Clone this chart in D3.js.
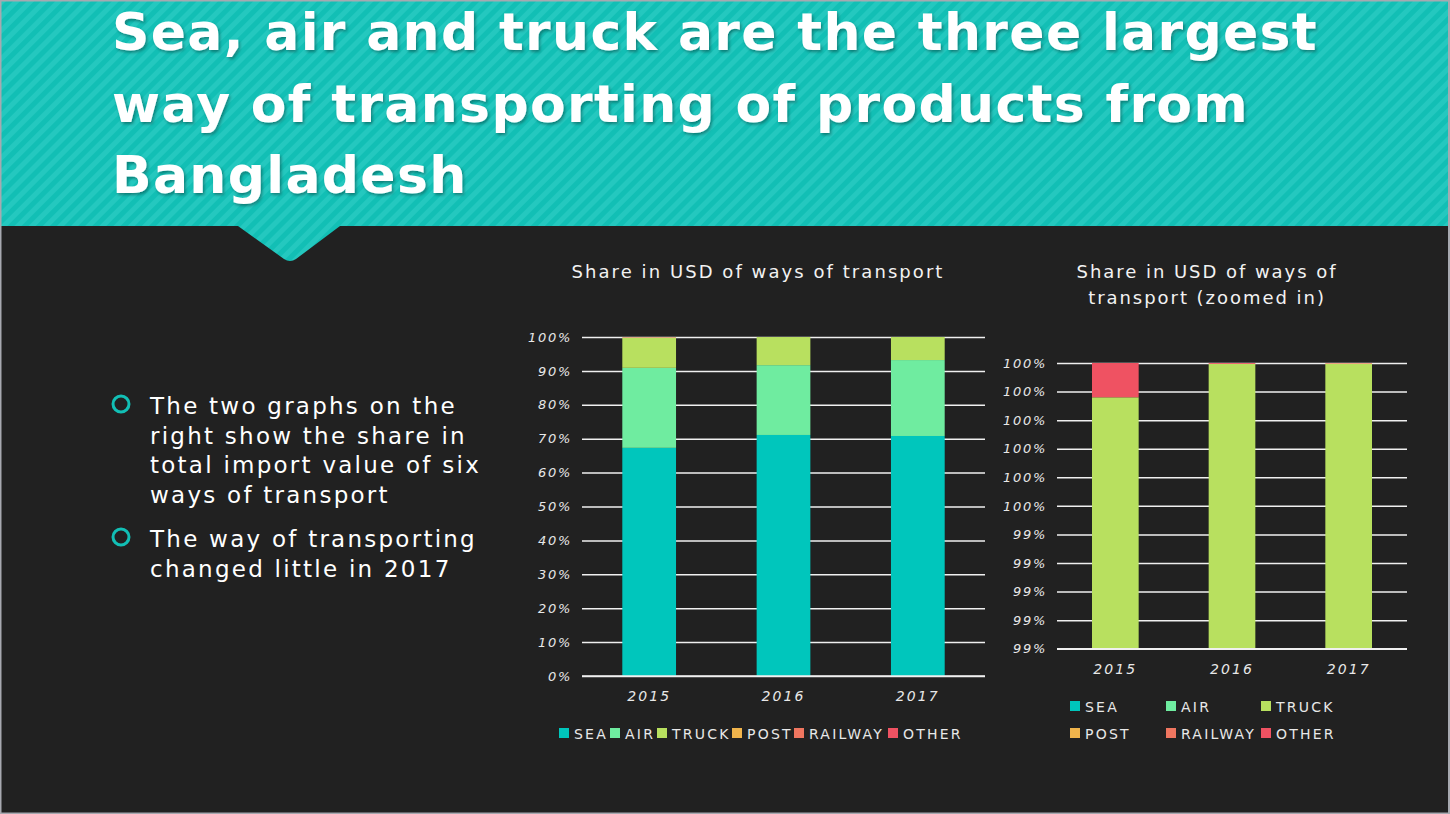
<!DOCTYPE html>
<html>
<head>
<meta charset="utf-8">
<script src="https://cdn.jsdelivr.net/npm/d3@7"></script>
<style>
  html, body { margin: 0; padding: 0; background: #212121; }
  svg { display: block; }
  text { font-family: "DejaVu Sans", "Open Sans", sans-serif; }
</style>
</head>
<body>
<svg id="chart" width="1450" height="814"></svg>
<script>
// ---------- DATA ----------
const years = ["2015", "2016", "2017"];
const modes = ["SEA", "AIR", "TRUCK", "POST", "RAILWAY", "OTHER"];
const seaShare     = [67.3, 71.1, 70.8];
const airShare     = [23.6, 20.6, 22.4];
const truckShare   = [8.98, 8.297, 6.797];
const postShare    = [0.0, 0.0, 0.001];
const railwayShare = [0.0, 0.0, 0.002];
const otherShare   = [0.12, 0.003, 0.0];
const mainTicks = [0, 10, 20, 30, 40, 50, 60, 70, 80, 90, 100];
const zoomTicks = [99.0, 99.1, 99.2, 99.3, 99.4, 99.5, 99.6, 99.7, 99.8, 99.9, 100.0];
const titleLines = ["Sea, air and truck are the three largest",
                    "way of transporting of products from",
                    "Bangladesh"];
const bullets = [
  ["The two graphs on the", "right show the share in", "total import value of six", "ways of transport"],
  ["The way of transporting", "changed little in 2017"]
];
const colors = ["#00c6bc", "#6feca0", "#b8e05f", "#f0b44c", "#ef7660", "#ef5262"];

const seriesValues = [seaShare, airShare, truckShare, postShare, railwayShare, otherShare];
const rows = years.map((y, i) => {
  const r = { year: y };
  modes.forEach((m, k) => r[m] = seriesValues[k][i]);
  return r;
});
const stacked = d3.stack().keys(modes)(rows);
const color = d3.scaleOrdinal(modes, colors);

const svg = d3.select("#chart");

function spacingFor(node, target) {
  node.setAttribute("letter-spacing", 0);
  const w = node.getComputedTextLength();
  const n = node.textContent.length;
  return (target - w) / n;
}

// ---------- BACKGROUND / BANNER ----------
const defs = svg.append("defs");
const pat = defs.append("pattern").attr("id", "stripes")
  .attr("patternUnits", "userSpaceOnUse").attr("width", 10).attr("height", 10)
  .attr("patternTransform", "rotate(-45)");
pat.append("rect").attr("width", 10).attr("height", 10).attr("fill", "#12bfb5");
pat.append("rect").attr("width", 10).attr("height", 5).attr("fill", "#24c8bf");

const shadow = defs.append("filter").attr("id", "tshadow").attr("x", "-5%").attr("y", "-20%").attr("width", "110%").attr("height", "140%");
shadow.append("feDropShadow").attr("dx", 1.5).attr("dy", 2).attr("stdDeviation", 1.5)
  .attr("flood-color", "#000").attr("flood-opacity", 0.35);

svg.append("rect").attr("width", 1450).attr("height", 814).attr("fill", "#212121");
svg.append("path")
  .attr("d", "M0,0 H1450 V226 H340 L296,259 Q290,263 284,259 L238,226 H0 Z")
  .attr("fill", "url(#stripes)");
svg.append("rect").attr("x", 0.5).attr("y", 0.5).attr("width", 1448.5).attr("height", 813)
  .attr("fill", "none").attr("stroke", "#a7a9b0").attr("stroke-width", 2);

// title
const titleG = svg.append("g").attr("filter", "url(#tshadow)");
const titleBase = [50, 122, 193];
const titleTexts = titleG.selectAll("text").data(titleLines).join("text")
  .attr("x", 112).attr("y", (d, i) => titleBase[i])
  .attr("fill", "#ffffff").attr("font-size", 52).attr("font-weight", "bold")
  .text(d => d);
titleTexts.attr("letter-spacing", spacingFor(titleTexts.nodes()[0], 1206));

// ---------- BULLETS ----------
const bulletStarts = [405, 538];
const bulletTexts = [];
bullets.forEach((lines, bi) => {
  const y0 = bulletStarts[bi];
  svg.append("circle").attr("cx", 121).attr("cy", y0 - 1).attr("r", 8)
    .attr("fill", "none").attr("stroke", "#12bfb5").attr("stroke-width", 3);
  svg.append("g").selectAll("text").data(lines).join("text")
    .attr("x", 150).attr("y", (d, i) => y0 + 9 + i * 29.6)
    .attr("fill", "#ffffff").attr("font-size", 23)
    .text(d => d)
    .each(function () { bulletTexts.push(this); });
});
d3.selectAll(bulletTexts).attr("letter-spacing", spacingFor(bulletTexts[2], 331));

// ---------- CHART HELPER ----------
function drawChart(opt) {
  const g = svg.append("g");
  const x = d3.scaleBand().domain(years).range([opt.x0, opt.x1]).paddingInner(0.6).paddingOuter(0.3);
  const y = d3.scaleLinear().domain(opt.domain).range([opt.yb, opt.yt]);

  const tt = g.selectAll("text.ctitle").data(opt.title).join("text").attr("class", "ctitle")
    .attr("x", opt.titleX).attr("y", (d, i) => opt.titleY + i * 26)
    .attr("text-anchor", "middle").attr("fill", "#f2f2f2").attr("font-size", 18)
    .text(d => d);
  tt.attr("letter-spacing", spacingFor(tt.nodes()[0], opt.titleW));

  const yAxis = d3.axisLeft(y).tickValues(opt.ticks).tickSize(-(opt.x1 - opt.x0))
    .tickPadding(10).tickFormat(opt.fmt);
  const ga = g.append("g").attr("transform", `translate(${opt.x0},0)`).call(yAxis);
  ga.select(".domain").remove();
  ga.selectAll(".tick line").attr("stroke", "#f0f0f0").attr("stroke-width", 1.5);
  const yt = ga.selectAll(".tick text").attr("fill", "#e8e8e8").attr("font-size", 13)
    .attr("font-style", "italic").attr("font-family", "\"DejaVu Sans\", sans-serif");
  const topTick = yt.nodes()[yt.size() - 1];
  yt.attr("letter-spacing", spacingFor(topTick, 44));

  const clipId = "clip" + opt.id;
  defs.append("clipPath").attr("id", clipId).append("rect")
    .attr("x", opt.x0).attr("y", opt.yt - 2).attr("width", opt.x1 - opt.x0).attr("height", opt.yb - opt.yt + 2);
  const barsG = g.append("g").attr("clip-path", `url(#${clipId})`);
  barsG.selectAll("g.layer").data(stacked).join("g").attr("class", "layer")
    .attr("fill", d => color(d.key))
    .selectAll("rect").data(d => d).join("rect")
      .attr("x", d => x(d.data.year))
      .attr("width", x.bandwidth())
      .attr("y", d => y(Math.min(d[1], opt.domain[1])))
      .attr("height", d => Math.max(0, y(Math.max(d[0], opt.domain[0] - 1)) - y(Math.min(d[1], opt.domain[1]))));

  g.append("line").attr("x1", opt.x0).attr("x2", opt.x1).attr("y1", y(opt.domain[0])).attr("y2", y(opt.domain[0]))
    .attr("stroke", "#f0f0f0").attr("stroke-width", 1.5);

  const xAxis = d3.axisBottom(x).tickSize(0).tickPadding(opt.xPad);
  const gx = g.append("g").attr("transform", `translate(0,${opt.yb})`).call(xAxis);
  gx.select(".domain").remove();
  const xt = gx.selectAll(".tick text").attr("fill", "#e8e8e8").attr("font-size", 14).attr("font-style", "italic")
    .attr("font-family", "\"DejaVu Sans\", sans-serif");
  xt.attr("letter-spacing", spacingFor(xt.nodes()[0], 44));

  const lg = g.append("g");
  const items = lg.selectAll("g").data(modes).join("g")
    .attr("transform", (d, i) => `translate(${opt.legendPos[i][0]},${opt.legendPos[i][1]})`);
  items.append("rect").attr("x", 0).attr("y", -5).attr("width", 10).attr("height", 10)
    .attr("fill", d => color(d));
  const lt = items.append("text").attr("x", 15).attr("y", 5.5).attr("fill", "#e8e8e8").attr("font-size", 14)
    .text(d => d);
  lt.attr("letter-spacing", spacingFor(lt.nodes()[4], 75));
}

drawChart({
  id: "main", x0: 582, x1: 985, yt: 337, yb: 676, domain: [0, 100], ticks: mainTicks,
  fmt: d => d + "%", title: ["Share in USD of ways of transport"], titleX: 758, titleY: 278, titleW: 373,
  xPad: 15,
  legendPos: [[559, 733], [610, 733], [657, 733], [732, 733], [794, 733], [888, 733]]
});

drawChart({
  id: "zoom", x0: 1057, x1: 1407, yt: 363, yb: 648.7, domain: [99, 100], ticks: zoomTicks,
  fmt: d => Math.round(d) + "%", title: ["Share in USD of ways of", "transport (zoomed in)"],
  titleX: 1207, titleY: 278, titleW: 261, xPad: 15,
  legendPos: [[1070, 706], [1166, 706], [1261, 706], [1070, 733], [1166, 733], [1261, 733]]
});
</script>
</body>
</html>
